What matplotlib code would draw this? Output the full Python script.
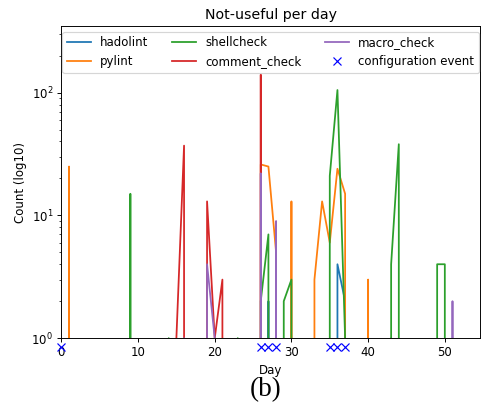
#!/usr/bin/env python3

import numpy as np
import matplotlib.pyplot as plt

# days 0..52, counts of not-useful comments per tool (0 = none)
days = np.arange(0, 53)

hadolint_pts = {27: 2, 36: 4, 37: 2, 43: 1}
pylint_pts = {1: 25, 26: 26, 27: 25, 28: 5, 30: 13, 33: 3, 34: 13, 35: 6,
              36: 24, 37: 15, 40: 3}
shellcheck_pts = {9: 15, 14: 1, 23: 1, 26: 2, 27: 7, 29: 2, 30: 3, 35: 21,
                  36: 105, 37: 1, 43: 4, 44: 38, 49: 4, 50: 4}
comment_check_pts = {15: 1, 16: 37, 19: 13, 20: 1, 21: 3, 26: 140}
macro_check_pts = {16: 1, 19: 4, 20: 1, 26: 22, 28: 9, 51: 2}

# days on which the configuration was changed
config_days = [0, 26, 27, 28, 35, 36, 37]


def to_series(pts):
    vals = np.zeros(len(days))
    for d, v in pts.items():
        vals[d] = v
    return vals


DPI = 85
fig = plt.figure(figsize=(483 / DPI, 404 / DPI), dpi=DPI)
ax = fig.add_axes([0.127, 0.163, 0.867, 0.773])

ax.plot(days, to_series(hadolint_pts), label='hadolint')
ax.plot(days, to_series(pylint_pts), label='pylint')
ax.plot(days, to_series(shellcheck_pts), label='shellcheck')
ax.plot(days, to_series(comment_check_pts), label='comment_check')
ax.plot(days, to_series(macro_check_pts), label='macro_check')
ax.plot(config_days, [0.85] * len(config_days), 'bx', clip_on=False,
        label='configuration event')

ax.set_yscale('log')
ax.set_ylim(1, 350)
ax.set_xlim(0, 54.6)

ax.set_xlabel('Day')
ax.set_ylabel('Count (log10)')
ax.set_title('Not-useful per day')
ax.legend(loc='upper center', ncol=3)

# caption under the chart
fig.text(0.549, 0.035, '(b)', ha='center', va='center',
         family='Liberation Serif', fontsize=23)

fig.savefig('out.png', dpi=DPI)
